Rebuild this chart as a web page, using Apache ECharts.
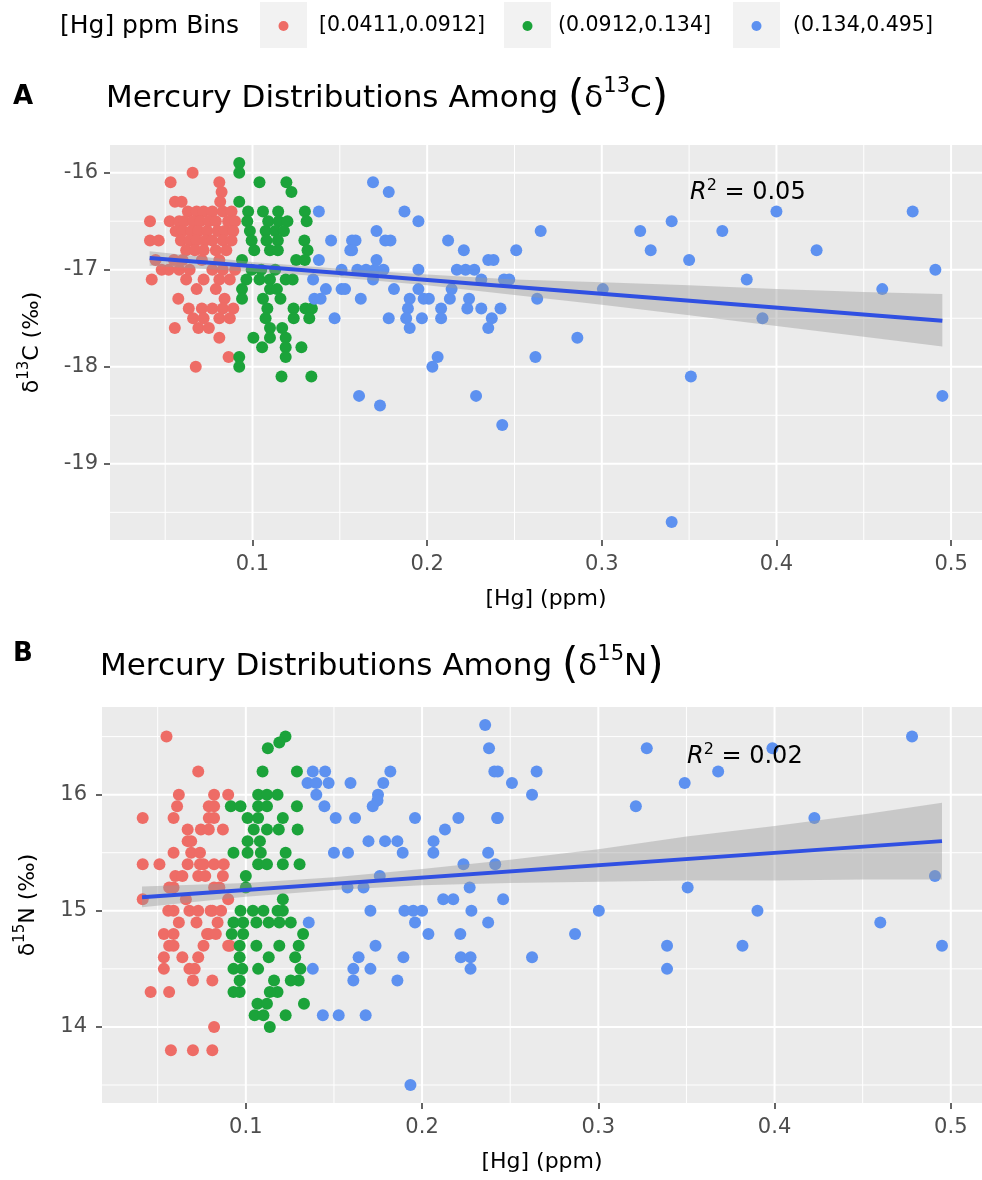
<!DOCTYPE html>
<html><head><meta charset="utf-8">
<script src="https://cdn.jsdelivr.net/npm/echarts@6/dist/echarts.min.js"></script>
<style>html,body{margin:0;padding:0;background:#fff}#c{width:982px;height:1180px}</style>
</head><body><div id="c"></div>
<script>
// ---------- tick labels / limits ----------
const binLabels = ['[0.0411,0.0912]', '(0.0912,0.134]', '(0.134,0.495]'];
const legendTitle = '[Hg] ppm Bins';
const xTicks = [0.1, 0.2, 0.3, 0.4, 0.5];
const xMinor = [0.05, 0.15, 0.25, 0.35, 0.45];
const yTicksA = [-19, -18, -17, -16];
const yMinorA = [-19.5, -18.5, -17.5, -16.5];
const yTicksB = [14, 15, 16];
const yMinorB = [13.5, 14.5, 15.5, 16.5];
const xLimits = [0.0184, 0.5177];
const yLimitsA = [-19.785, -15.715];
const yLimitsB = [13.345, 16.755];

// ---------- panel A : d13C ----------
const redA = [[0.0413,-16.5],[0.0413,-16.7],[0.0463,-16.7],[0.0423,-17.1],[0.0445,-16.9],[0.048,-17.0],
[0.0531,-16.1],[0.0526,-16.5],[0.0556,-16.3],[0.0594,-16.3],[0.0657,-16.0],[0.081,-16.1],[0.0823,-16.2],[0.0815,-16.3],
[0.058,-16.5],[0.063,-16.4],[0.068,-16.4],[0.072,-16.4],[0.077,-16.4],[0.083,-16.4],[0.088,-16.4],
[0.061,-16.5],[0.066,-16.5],[0.07,-16.5],[0.075,-16.5],[0.079,-16.5],[0.086,-16.5],[0.09,-16.5],
[0.056,-16.6],[0.06,-16.6],[0.065,-16.6],[0.069,-16.6],[0.074,-16.6],[0.08,-16.6],[0.084,-16.6],[0.089,-16.6],
[0.059,-16.7],[0.064,-16.7],[0.068,-16.7],[0.073,-16.7],[0.077,-16.7],[0.083,-16.7],[0.088,-16.7],
[0.062,-16.8],[0.067,-16.8],[0.072,-16.8],[0.079,-16.8],[0.085,-16.8],
[0.055,-16.9],[0.06,-16.9],[0.071,-16.9],[0.081,-16.9],
[0.052,-17.0],[0.058,-17.0],[0.064,-17.0],[0.077,-17.0],[0.083,-17.0],[0.09,-17.0],
[0.062,-17.1],[0.072,-17.1],[0.081,-17.1],[0.087,-17.1],
[0.0575,-17.3],[0.068,-17.2],[0.079,-17.2],[0.084,-17.3],
[0.0635,-17.4],[0.071,-17.4],[0.077,-17.4],[0.083,-17.4],[0.089,-17.4],
[0.066,-17.5],[0.072,-17.5],[0.081,-17.5],[0.087,-17.5],
[0.0555,-17.6],[0.069,-17.6],[0.075,-17.6],[0.081,-17.7],[0.0863,-17.9],[0.0675,-18.0]];
const greenA = [[0.0924,-15.9],[0.0924,-16.0],[0.104,-16.1],[0.1194,-16.1],[0.1223,-16.2],[0.0924,-16.3],
[0.0975,-16.4],[0.106,-16.4],[0.1147,-16.4],[0.13,-16.4],
[0.097,-16.5],[0.109,-16.5],[0.115,-16.5],[0.12,-16.5],[0.131,-16.5],
[0.0985,-16.6],[0.1075,-16.6],[0.113,-16.6],[0.118,-16.6],
[0.0995,-16.7],[0.108,-16.7],[0.1145,-16.7],[0.1297,-16.7],
[0.101,-16.8],[0.11,-16.8],[0.1145,-16.8],[0.1315,-16.8],
[0.125,-16.9],[0.13,-16.9],[0.094,-16.9],
[0.0995,-17.0],[0.105,-17.0],[0.113,-17.0],
[0.0965,-17.1],[0.104,-17.1],[0.11,-17.1],[0.119,-17.1],[0.123,-17.1],
[0.094,-17.2],[0.11,-17.2],[0.114,-17.2],
[0.094,-17.3],[0.106,-17.3],[0.116,-17.3],
[0.1235,-17.4],[0.1303,-17.4],[0.134,-17.4],[0.1085,-17.4],
[0.1075,-17.5],[0.1236,-17.5],[0.1325,-17.5],
[0.11,-17.6],[0.117,-17.6],
[0.1005,-17.7],[0.11,-17.7],[0.119,-17.7],
[0.1055,-17.8],[0.119,-17.8],[0.128,-17.8],
[0.119,-17.9],[0.0924,-17.9],[0.0924,-18.0],[0.1166,-18.1],[0.1337,-18.1]];
const blueA = [[0.138,-16.4],[0.145,-16.7],[0.157,-16.7],[0.156,-16.8],[0.138,-16.9],
[0.1347,-17.1],[0.142,-17.2],[0.151,-17.2],[0.1354,-17.3],[0.139,-17.3],[0.147,-17.5],
[0.169,-16.1],[0.178,-16.2],[0.187,-16.4],[0.195,-16.5],[0.265,-16.6],
[0.171,-16.6],[0.176,-16.7],[0.179,-16.7],[0.159,-16.7],[0.157,-16.8],[0.212,-16.7],[0.221,-16.8],[0.251,-16.8],
[0.235,-16.9],[0.238,-16.9],[0.171,-16.9],
[0.151,-17.0],[0.16,-17.0],[0.165,-17.0],[0.17,-17.0],[0.175,-17.0],[0.195,-17.0],[0.217,-17.0],[0.222,-17.0],[0.227,-17.0],
[0.231,-17.1],[0.244,-17.1],[0.247,-17.1],[0.169,-17.1],
[0.153,-17.2],[0.181,-17.2],[0.195,-17.2],[0.214,-17.2],
[0.162,-17.3],[0.19,-17.3],[0.198,-17.3],[0.201,-17.3],[0.213,-17.3],[0.224,-17.3],[0.263,-17.3],
[0.189,-17.4],[0.208,-17.4],[0.223,-17.4],[0.231,-17.4],[0.242,-17.4],
[0.178,-17.5],[0.188,-17.5],[0.197,-17.5],[0.208,-17.5],[0.237,-17.5],
[0.19,-17.6],[0.235,-17.6],
[0.286,-17.7],[0.206,-17.9],[0.203,-18.0],[0.262,-17.9],
[0.161,-18.3],[0.173,-18.4],[0.228,-18.3],[0.243,-18.6],
[0.3006,-17.2],[0.322,-16.6],[0.328,-16.8],[0.34,-16.5],[0.35,-16.9],[0.369,-16.6],[0.40,-16.4],
[0.383,-17.1],[0.392,-17.5],[0.351,-18.1],[0.34,-19.6],[0.423,-16.8],[0.4606,-17.2],[0.478,-16.4],[0.491,-17.0],[0.495,-18.3]];
const fitA = [[0.0411,-16.88],[0.495,-17.525]];
const bandX = [0.0411, 0.1, 0.15, 0.2, 0.25, 0.3, 0.35, 0.4, 0.45, 0.495];
const bandUpperA = [-16.81,-16.92,-16.99,-17.05,-17.10,-17.13,-17.16,-17.20,-17.23,-17.25];
const bandLowerA = [-16.96,-17.02,-17.08,-17.16,-17.26,-17.36,-17.47,-17.58,-17.69,-17.79];
const r2A = '0.05';

// ---------- panel B : d15N ----------
const redB = [[0.0415,15.8],[0.0415,15.4],[0.0415,15.1],[0.046,14.3],[0.051,15.4],[0.055,16.5],
[0.0535,14.8],[0.0535,14.6],[0.0535,14.5],[0.0565,14.7],[0.0565,14.3],[0.0575,13.8],
[0.0565,15.2],[0.059,15.2],[0.059,15.5],[0.059,15.8],[0.059,15.0],[0.059,14.7],[0.059,14.8],
[0.061,15.9],[0.062,16.0],[0.062,14.9],[0.06,15.3],
[0.067,15.7],[0.067,15.6],[0.068,15.0],[0.068,14.5],[0.067,15.4],[0.069,15.5],[0.069,15.6],[0.064,15.3],
[0.07,14.4],[0.07,13.8],[0.071,14.5],[0.072,14.9],[0.073,16.2],[0.073,15.3],[0.073,15.0],[0.073,14.6],
[0.074,15.5],[0.0745,15.7],[0.074,15.4],[0.076,15.4],[0.077,15.3],[0.078,14.8],
[0.079,15.7],[0.079,15.9],[0.079,14.8],[0.079,15.8],[0.08,15.0],[0.081,14.4],[0.081,13.8],[0.081,15.0],
[0.082,16.0],[0.082,15.9],[0.082,15.8],[0.082,15.4],[0.082,15.2],[0.082,14.0],[0.083,14.8],[0.084,14.9],
[0.086,15.0],[0.087,15.7],[0.0875,15.4],[0.087,15.3],[0.09,16.0],[0.09,15.1],[0.09,14.7],[0.091,14.7],
[0.085,15.2],[0.066,15.1],[0.056,15.0],[0.064,14.6],[0.076,14.7]];
const greenB = [[0.1225,16.5],[0.119,16.45],[0.1125,16.4],[0.1095,16.2],[0.129,16.2],
[0.107,16.0],[0.112,16.0],[0.118,16.0],
[0.0915,15.9],[0.097,15.9],[0.107,15.9],[0.112,15.9],[0.129,15.9],
[0.101,15.8],[0.107,15.8],[0.121,15.8],
[0.1045,15.7],[0.112,15.7],[0.1187,15.7],[0.1294,15.7],
[0.108,15.6],[0.101,15.6],
[0.093,15.5],[0.101,15.5],[0.1085,15.5],[0.1226,15.5],
[0.121,15.4],[0.107,15.4],[0.112,15.4],[0.1305,15.4],
[0.1,15.3],[0.1,15.2],[0.121,15.1],[0.121,15.0],
[0.097,15.0],[0.104,15.0],[0.11,15.0],[0.118,15.0],
[0.093,14.9],[0.0985,14.9],[0.106,14.9],[0.113,14.9],[0.119,14.9],[0.1255,14.9],
[0.092,14.8],[0.0985,14.8],[0.1325,14.8],
[0.0965,14.7],[0.106,14.7],[0.119,14.7],[0.13,14.7],
[0.0965,14.6],[0.113,14.6],[0.128,14.6],
[0.093,14.5],[0.098,14.5],[0.107,14.5],[0.131,14.5],
[0.0965,14.4],[0.116,14.4],[0.13,14.4],[0.1255,14.4],
[0.0965,14.3],[0.118,14.3],[0.1136,14.3],[0.093,14.3],
[0.1066,14.2],[0.112,14.2],[0.133,14.2],
[0.105,14.1],[0.11,14.1],[0.1226,14.1],[0.1136,14.0]];
const blueB = [[0.2358,16.6],[0.238,16.4],[0.241,16.2],[0.2426,15.8],[0.2375,15.5],[0.2415,15.4],[0.246,15.1],
[0.138,16.2],[0.145,16.2],[0.135,16.1],[0.14,16.1],[0.147,16.1],[0.14,16.0],[0.1446,15.9],[0.151,15.8],[0.1594,16.1],[0.162,15.8],
[0.182,16.2],[0.178,16.1],[0.175,16.0],[0.1747,15.95],[0.172,15.9],[0.196,15.8],[0.2206,15.8],[0.213,15.7],[0.2065,15.6],
[0.1696,15.6],[0.179,15.6],[0.186,15.6],[0.189,15.5],[0.15,15.5],[0.158,15.5],[0.2064,15.5],[0.2235,15.4],[0.176,15.3],
[0.227,15.2],[0.1577,15.2],[0.1668,15.2],
[0.212,15.1],[0.2177,15.1],[0.19,15.0],[0.195,15.0],[0.2,15.0],[0.1707,15.0],[0.228,15.0],
[0.196,14.9],[0.2375,14.9],[0.1357,14.9],[0.2036,14.8],[0.2217,14.8],[0.1736,14.7],
[0.164,14.6],[0.161,14.5],[0.1707,14.5],[0.1894,14.6],[0.222,14.6],[0.2275,14.6],[0.2275,14.5],[0.138,14.5],[0.186,14.4],[0.161,14.4],
[0.1437,14.1],[0.1527,14.1],[0.168,14.1],[0.1934,13.5],
[0.243,16.2],[0.251,16.1],[0.265,16.2],[0.2624,16.0],[0.243,15.8],[0.2624,14.6],[0.2868,14.8],[0.3003,15.0],
[0.3213,15.9],[0.3275,16.4],[0.339,14.7],[0.339,14.5],[0.349,16.1],[0.3507,15.2],[0.368,16.2],[0.3818,14.7],
[0.3903,15.0],[0.3988,16.4],[0.4226,15.8],[0.46,14.9],[0.478,16.5],[0.491,15.3],[0.495,14.7]];
const fitB = [[0.0411,15.117],[0.495,15.60]];
const bandUpperB = [15.21,15.24,15.29,15.36,15.44,15.53,15.64,15.73,15.83,15.93];
const bandLowerB = [15.03,15.12,15.18,15.22,15.24,15.25,15.26,15.26,15.27,15.27];
const r2B = '0.02';

// ---------- styling ----------
const FONT = 'DejaVu Sans';
const COLORS = ['#EE6C66', '#1BA33A', '#5D91F0'];
const LINE_COLOR = '#3050E2';

function gridSeries(gi, yTicks, yMinor, yLim) {
  const data = [];
  xMinor.forEach(v => data.push([v, yLim[0], 0, 0]));
  yMinor.forEach(v => data.push([xLimits[0], v, 1, 0]));
  xTicks.forEach(v => data.push([v, yLim[0], 0, 1]));
  yTicks.forEach(v => data.push([xLimits[0], v, 1, 1]));
  return {
    type: 'custom', xAxisIndex: gi, yAxisIndex: gi, z: 1, silent: true, animation: false,
    data, encode: { x: 0, y: 1 },
    renderItem(params, api) {
      const cs = params.coordSys;
      const p = api.coord([api.value(0), api.value(1)]);
      const w = api.value(3) === 1 ? 2 : 1;
      const shape = api.value(2) === 0
        ? { x1: p[0], y1: cs.y, x2: p[0], y2: cs.y + cs.height }
        : { x1: cs.x, y1: p[1], x2: cs.x + cs.width, y2: p[1] };
      return { type: 'line', shape, style: { stroke: '#ffffff', lineWidth: w } };
    }
  };
}
function bandSeries(gi, lower, upper) {
  return {
    type: 'custom', xAxisIndex: gi, yAxisIndex: gi, z: 4, silent: true, animation: false, clip: true,
    data: bandX.map((x, i) => [x, lower[i], upper[i]]),
    encode: { x: 0, y: [1, 2] },
    renderItem(params, api) {
      if (params.dataIndex !== 0) return;
      const top = bandX.map((x, i) => api.coord([x, upper[i]]));
      const bot = bandX.map((x, i) => api.coord([x, lower[i]])).reverse();
      return { type: 'polygon', shape: { points: top.concat(bot) }, style: { fill: 'rgba(153,153,153,0.42)' } };
    }
  };
}
function pts(gi, data, color, name) {
  return { type: 'scatter', name, xAxisIndex: gi, yAxisIndex: gi, data, symbolSize: 12,
    itemStyle: { color, opacity: 1 }, z: 3, silent: true, animation: false };
}
function fitLine(gi, data) {
  return { type: 'line', xAxisIndex: gi, yAxisIndex: gi, data, symbol: 'none', z: 5, silent: true,
    animation: false, lineStyle: { color: LINE_COLOR, width: 4 } };
}
function xAx(gi) {
  return { type: 'value', gridIndex: gi, min: xLimits[0], max: xLimits[1],
    name: '[Hg] (ppm)', nameLocation: 'middle', nameGap: 48,
    nameTextStyle: { fontFamily: FONT, fontSize: 22, color: '#000' },
    axisLine: { show: false },
    axisTick: { show: true, customValues: xTicks, length: 6, lineStyle: { color: '#333', width: 1.5 } },
    axisLabel: { customValues: xTicks, margin: 14, fontFamily: FONT, fontSize: 21, color: '#4d4d4d' },
    splitLine: { show: false } };
}
function yAx(gi, lim, ticks, name, gap, margin) {
  return { type: 'value', gridIndex: gi, min: lim[0], max: lim[1],
    name, nameLocation: 'middle', nameRotate: 90, nameGap: gap,
    nameTextStyle: { fontFamily: FONT, fontSize: 22, color: '#000',
      rich: { n: { fontFamily: FONT, fontSize: 22, color: '#000' },
              s: { fontFamily: FONT, fontSize: 15, color: '#000', padding: [0, 0, 16, 0] } } },
    axisLine: { show: false },
    axisTick: { show: true, customValues: ticks, length: 6, lineStyle: { color: '#333', width: 1.5 } },
    axisLabel: { customValues: ticks, margin, fontFamily: FONT, fontSize: 21, color: '#4d4d4d' },
    splitLine: { show: false } };
}
function titleText(x, y, iso, el) {
  return { type: 'text', x, y, silent: true, style: {
    text: '{m|Mercury Distributions Among }{p|(}{m|δ}{s|' + iso + '}{m|' + el + '}{p|)}',
    align: 'left', verticalAlign: 'middle',
    rich: { m: { fontFamily: FONT, fontSize: 31, fill: '#000' },
            p: { fontFamily: FONT, fontSize: 42, fill: '#000' },
            s: { fontFamily: FONT, fontSize: 21, fill: '#000', padding: [0, 0, 24, 0] } } } };
}
function r2Text(x, y, val) {
  return { type: 'text', x, y, silent: true, z: 10, style: {
    text: '{i|R}{s|2}{n| = ' + val + '}', align: 'left', verticalAlign: 'middle',
    rich: { i: { fontFamily: FONT, fontSize: 24, fontStyle: 'italic', fill: '#000' },
            s: { fontFamily: FONT, fontSize: 16, fill: '#000', padding: [0, 0, 14, 0] },
            n: { fontFamily: FONT, fontSize: 24, fill: '#000' } } } };
}
function letter(x, y, t) {
  return { type: 'text', x, y, silent: true, style: { text: t, align: 'left', verticalAlign: 'middle',
    fontFamily: FONT, fontSize: 26, fontWeight: 'bold', fill: '#000' } };
}

// legend (drawn with graphic elements)
const legendBoxX = [260, 504, 733];
const legendTextX = [319, 558, 793];
const legendEls = [{ type: 'text', x: 60, y: 26, silent: true, style: { text: legendTitle, align: 'left',
  verticalAlign: 'middle', fontFamily: FONT, fontSize: 25, fill: '#000' } }];
binLabels.forEach((lab, i) => {
  legendEls.push({ type: 'rect', silent: true, shape: { x: legendBoxX[i], y: 2, width: 47, height: 46 }, style: { fill: '#f2f2f2' } });
  legendEls.push({ type: 'circle', silent: true, shape: { cx: legendBoxX[i] + 23.5, cy: 26, r: 5 }, style: { fill: COLORS[i] } });
  legendEls.push({ type: 'text', x: legendTextX[i], y: 26, silent: true, style: { text: lab, align: 'left',
    verticalAlign: 'middle', fontFamily: FONT, fontSize: 20.5, fill: '#000' } });
});

const chart = echarts.init(document.getElementById('c'), null, { renderer: 'canvas' });
chart.setOption({
  animation: false,
  backgroundColor: '#ffffff',
  grid: [
    { left: 110, top: 145, right: 0, height: 395, show: true, backgroundColor: '#ebebeb', borderWidth: 0 },
    { left: 102, top: 707, right: 0, height: 396, show: true, backgroundColor: '#ebebeb', borderWidth: 0 }
  ],
  xAxis: [xAx(0), xAx(1)],
  yAxis: [
    yAx(0, yLimitsA, yTicksA, '{n|δ}{s|13}{n|C (‰)}', 62, 12),
    yAx(1, yLimitsB, yTicksB, '{n|δ}{s|15}{n|N (‰)}', 58, 15)
  ],
  series: [
    gridSeries(0, yTicksA, yMinorA, yLimitsA),
    gridSeries(1, yTicksB, yMinorB, yLimitsB),
    pts(0, redA, COLORS[0], binLabels[0]), pts(0, greenA, COLORS[1], binLabels[1]), pts(0, blueA, COLORS[2], binLabels[2]),
    pts(1, redB, COLORS[0], binLabels[0]), pts(1, greenB, COLORS[1], binLabels[1]), pts(1, blueB, COLORS[2], binLabels[2]),
    bandSeries(0, bandLowerA, bandUpperA), bandSeries(1, bandLowerB, bandUpperB),
    fitLine(0, fitA), fitLine(1, fitB)
  ],
  graphic: legendEls.concat([
    letter(13, 97, 'A'), titleText(106, 99, '13', 'C'), r2Text(690, 193, r2A),
    letter(13, 654, 'B'), titleText(100, 667, '15', 'N'), r2Text(687, 757, r2B)
  ])
});
</script></body></html>
